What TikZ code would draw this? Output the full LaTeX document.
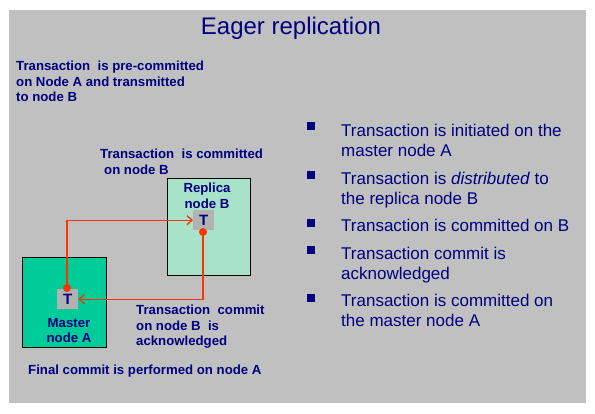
\documentclass[tikz,border=0pt]{standalone}
\usepackage{fontspec}
\setmainfont{Liberation Sans}
\usetikzlibrary{arrows.meta}
\definecolor{navy}{RGB}{0,0,128}
\definecolor{bggray}{RGB}{192,192,192}
\definecolor{mint}{RGB}{168,226,200}
\definecolor{mastergreen}{RGB}{0,204,153}
\definecolor{tgray}{RGB}{178,178,178}
\definecolor{arrred}{RGB}{255,51,0}
\begin{document}
\begin{tikzpicture}[x=1pt,y=-1pt,
  lbl/.style={inner sep=0pt, anchor=base west, text=navy, font=\fontsize{13.2}{15.5}\selectfont\bfseries},
  clbl/.style={lbl, anchor=base},
  blt/.style={inner sep=0pt, anchor=base west, text=navy, font=\fontsize{17}{19.5}\selectfont},
  bsq/.style={fill=navy, minimum size=8pt, inner sep=0pt},
  nodebox/.style={draw=black, line width=1pt, anchor=north west, inner sep=0pt},
  tbox/.style={fill=tgray, anchor=north west, minimum width=21pt, minimum height=20pt, inner sep=0pt, text=navy, font=\fontsize{15}{17}\selectfont\bfseries},
  dot/.style={circle, fill=arrred, minimum size=8pt, inner sep=0pt},
  conn/.style={draw=arrred, line width=1.3pt, -{Straight Barb[length=5pt,width=9pt]}}
]
\useasboundingbox (0,0) rectangle (595,414);
\fill[bggray] (9,10) rectangle (586,403);

% title
\node[anchor=base, inner sep=0pt, text=navy, font=\fontsize{24}{28}\selectfont] (title) at (291,35) {Eager replication};

% left annotations
\node[lbl] (pre) at (16,71) {\begin{tabular}[t]{@{}l@{}}Transaction\ \ is pre-committed\\on Node A and transmitted\\to node B\end{tabular}};
\node[lbl] (commitB) at (100,159) {\begin{tabular}[t]{@{}l@{}}Transaction\ \ is committed\\\hspace{4pt}on node B\end{tabular}};
\node[lbl] (ack) at (136,315) {\begin{tabular}[t]{@{}l@{}}Transaction\ \ commit\\on node B\ \ is\\acknowledged\end{tabular}};
\node[lbl] (final) at (28,374) {Final commit is performed on node A};

% node boxes
\node[nodebox, fill=mint, minimum width=83pt, minimum height=97pt] (replica) at (167,178) {};
\node[nodebox, fill=mastergreen, minimum width=84pt, minimum height=90pt] (master) at (22,257) {};
\node[clbl] (replicalbl) at (207,193) {\begin{tabular}[t]{@{}c@{}}Replica\\node B\end{tabular}};
\node[clbl] (masterlbl) at (69,327) {\begin{tabular}[t]{@{}c@{}}Master\\node A\end{tabular}};

% transaction boxes
\node[tbox] (rT) at (193,210) {T};
\node[tbox] (mT) at (57,289) {T};

% dots
\node[dot] (rdot) at (203,232) {};
\node[dot] (mdot) at (67,288) {};

% connectors
\draw[conn] (mdot.center) |- (rT.west);
\draw[conn] (rdot.center) |- (mT.east);

% bullet list
\node[bsq] (b1) at (311,126.5) {};
\node[blt] (t1) at (341,137) {\begin{tabular}[t]{@{}l@{}}Transaction is initiated on the\\master node A\end{tabular}};
\node[bsq] (b2) at (311,175) {};
\node[blt] (t2) at (341,185) {\begin{tabular}[t]{@{}l@{}}Transaction is \textit{distributed} to\\the replica node B\end{tabular}};
\node[bsq] (b3) at (311,223) {};
\node[blt] (t3) at (341,232) {Transaction is committed on B};
\node[bsq] (b4) at (311,250.5) {};
\node[blt] (t4) at (341,260) {\begin{tabular}[t]{@{}l@{}}Transaction commit is\\acknowledged\end{tabular}};
\node[bsq] (b5) at (311,298) {};
\node[blt] (t5) at (341,307) {\begin{tabular}[t]{@{}l@{}}Transaction is committed on\\the master node A\end{tabular}};
\end{tikzpicture}
\end{document}
